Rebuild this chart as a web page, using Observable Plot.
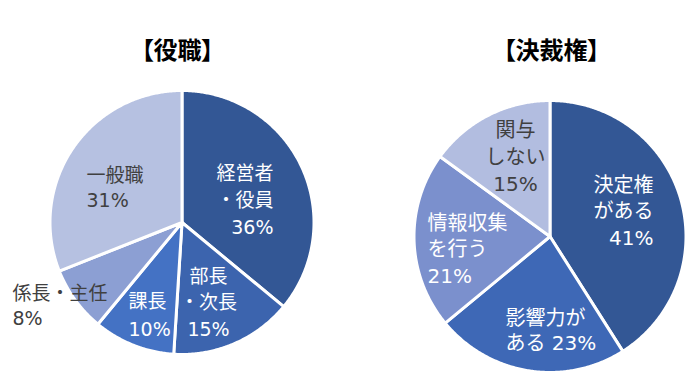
<!DOCTYPE html>
<html>
<head>
<meta charset="utf-8">
<script src="https://cdn.jsdelivr.net/npm/d3@7"></script>
<script src="https://cdn.jsdelivr.net/npm/@observablehq/plot@0.6"></script>
<style>
  html, body { margin: 0; padding: 0; background: #fff; }
  #chart { width: 696px; height: 387px; }
</style>
</head>
<body>
<div id="chart"></div>
<script>
// ---- data ----
const roleTitle = "【役職】";
const roleCategories = ["経営者・役員", "部長・次長", "課長", "係長・主任", "一般職"];
const roleValues = [36, 15, 10, 8, 31];
const roleLabelLines = [["経営者", "・役員"], ["部長", "・次長"], ["課長"], ["係長・主任"], ["一般職"]];

const authTitle = "【決裁権】";
const authCategories = ["決定権がある", "影響力がある", "情報収集を行う", "関与しない"];
const authValues = [41, 23, 21, 15];
const authLabelLines = [["決定権", "がある"], ["影響力が", "ある"], ["情報収集", "を行う"], ["関与", "しない"]];
const authInlinePct = [false, true, false, false];

// ---- styles / layout ----
const roleColors = ["#335795", "#3c64ae", "#4472c4", "#8c9fd3", "#b6c1e1"];
const authColors = ["#335795", "#3e68b6", "#7b90cd", "#b2bde0"];
const W = 696, H = 387;
const rolePie = {cx: 181.5, cy: 222, r: 132, title: {x: 177, y: 51}};
const authPie = {cx: 549.5, cy: 236, r: 136, title: {x: 551, y: 51}};
const WHITE = "#ffffff", DARK = "#404040";
const LABEL_SHIFT = -2;
const roleLabelLayout = [
  {x: 273, y: 173, dy: 27, anchor: "end", fill: WHITE},
  {x: 208, y: 276, dy: 26.5, anchor: "middle", fill: WHITE},
  {x: 128, y: 301, dy: 28, anchor: "start", fill: WHITE},
  {x: 12, y: 293, dy: 25.5, anchor: "start", fill: DARK},
  {x: 86, y: 175, dy: 25.5, anchor: "start", fill: DARK}
];
const authLabelLayout = [
  {x: 653, y: 185, dy: 26.5, anchor: "end", fill: WHITE},
  {x: 505, y: 318, dy: 25.5, anchor: "start", fill: WHITE},
  {x: 427, y: 223, dy: 26.5, anchor: "start", fill: WHITE},
  {x: 515, y: 130, dy: 27, anchor: "middle", fill: DARK}
];
const FONT = "'Noto Sans CJK JP', 'Noto Sans', sans-serif";
const LABEL_FONT = "'DejaVu Sans', 'Noto Sans CJK JP', sans-serif";

// ---- pie polygons from values ----
function slicePoints(cats, values, colors, geo) {
  const arcs = d3.pie().sort(null).value(d => d)(values);
  const pts = [];
  arcs.forEach((a, i) => {
    const base = {key: geo.cx + ":" + cats[i], color: colors[i]};
    pts.push({...base, x: geo.cx, y: geo.cy});
    const n = Math.max(2, Math.ceil((a.endAngle - a.startAngle) / (Math.PI / 360)));
    for (let k = 0; k <= n; k++) {
      const t = a.startAngle + (a.endAngle - a.startAngle) * k / n;
      pts.push({...base, x: geo.cx + geo.r * Math.sin(t), y: geo.cy - geo.r * Math.cos(t)});
    }
    pts.push({...base, x: geo.cx, y: geo.cy});
  });
  return pts;
}

function labelMarks(lines, values, layout, size, inline) {
  return lines.map((ls, i) => {
    const L = layout[i];
    const texts = ls.slice();
    const pct = values[i] + "%";
    if (inline && inline[i]) texts[texts.length - 1] += " " + pct; else texts.push(pct);
    const rec = {text: texts.join("\n"), x: L.x, y: L.y + LABEL_SHIFT + (texts.length - 1) * L.dy / 2};
    return Plot.text([rec], {
      x: "x", y: "y", text: "text", textAnchor: L.anchor, lineAnchor: "middle",
      lineHeight: L.dy / size,
      fill: L.fill, fontSize: size, fontFamily: LABEL_FONT
    });
  });
}

const pieData = [
  ...slicePoints(roleCategories, roleValues, roleColors, rolePie),
  ...slicePoints(authCategories, authValues, authColors, authPie)
];

const plot = Plot.plot({
  width: W, height: H,
  margin: 0,
  x: {domain: [0, W], range: [0, W], axis: null},
  y: {domain: [0, H], range: [0, H], axis: null},
  color: {type: "identity"},
  style: {background: "#fff", fontFamily: FONT},
  marks: [
    Plot.line(pieData, {x: "x", y: "y", z: "key", fill: "color", stroke: "#fff", strokeWidth: 3, strokeLinejoin: "round", curve: "linear"}),
    ...labelMarks(roleLabelLines, roleValues, roleLabelLayout, 19),
    ...labelMarks(authLabelLines, authValues, authLabelLayout, 20, authInlinePct),
    Plot.text([roleTitle], {x: () => rolePie.title.x, y: () => rolePie.title.y, text: d => d, fontSize: 24, fontWeight: "bold", fill: "#000", lineAnchor: "middle", fontFamily: FONT}),
    Plot.text([authTitle], {x: () => authPie.title.x, y: () => authPie.title.y, text: d => d, fontSize: 24, fontWeight: "bold", fill: "#000", lineAnchor: "middle", fontFamily: FONT})
  ]
});
d3.select(plot).selectAll("text").filter(function () { return this.textContent.includes("【"); })
  .style("font-feature-settings", '"palt"');
document.getElementById("chart").appendChild(plot);
</script>
</body>
</html>
